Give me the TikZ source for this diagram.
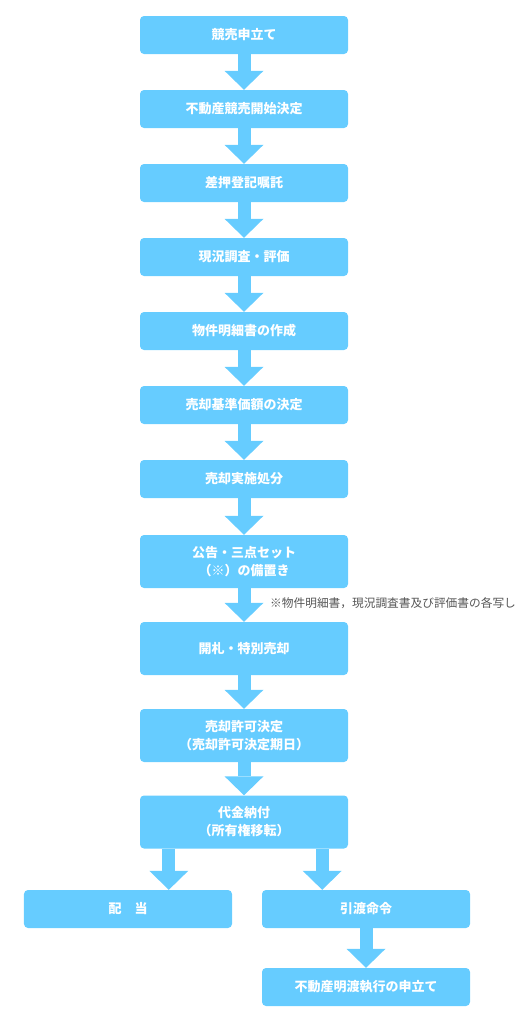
\documentclass[tikz,border=0pt]{standalone}
\usepackage{fontspec}
\setmainfont{Noto Sans CJK JP}
\usetikzlibrary{arrows.meta}
\definecolor{boxblue}{HTML}{66CCFF}
\definecolor{notegray}{HTML}{555555}

\begin{document}
\begin{tikzpicture}[x=1bp,y=-1bp,
  box/.style={fill=boxblue,rounded corners=4bp,minimum width=208bp,minimum height=38bp,
    inner sep=0pt,align=center,text=white,font=\fontsize{13bp}{18bp}\selectfont\bfseries},
  tallbox/.style={box,minimum height=53bp},
  flow/.style={boxblue,line width=13bp,-{Triangle[length=19bp,width=39bp,line width=0pt]}}]
  \useasboundingbox (0,0) rectangle (524,1024);
  \node[box] (apply) at (244,35) {競売申立て};
  \node[box] (start) at (244,109) {不動産競売開始決定};
  \node[box] (seize) at (244,183) {差押登記嘱託};
  \node[box] (survey) at (244,257) {現況調査・評価};
  \node[box] (spec) at (244,331) {物件明細書の作成};
  \node[box] (base) at (244,405) {売却基準価額の決定};
  \node[box] (order) at (244,479) {売却実施処分};
  \node[tallbox] (notice) at (244,561.5) {公告・三点セット\\（※）の備置き};
  \node[tallbox] (bid) at (244,648.5) {開札・特別売却};
  \node[tallbox] (permit) at (244,735.5) {売却許可決定\\（売却許可決定期日）};
  \node[tallbox] (pay) at (244,822) {代金納付\\（所有権移転）};
  \node[box] (dist) at (128,909) {配　当};
  \node[box] (handover) at (366,909) {引渡命令};
  \node[box] (evict) at (366,987) {不動産明渡執行の申立て};
  \node[notegray,anchor=west,inner sep=0pt,font=\fontsize{11.7bp}{15bp}\selectfont] (note) at (270,603)
    {※物件明細書，現況調査書及び評価書の各写し};
  \draw[flow] (apply) -- (start);
  \draw[flow] (start) -- (seize);
  \draw[flow] (seize) -- (survey);
  \draw[flow] (survey) -- (spec);
  \draw[flow] (spec) -- (base);
  \draw[flow] (base) -- (order);
  \draw[flow] (order) -- (notice);
  \draw[flow] (notice) -- (bid);
  \draw[flow] (bid) -- (permit);
  \draw[flow] (permit) -- (pay);
  \coordinate (pay-l) at ([xshift=29bp]pay.south west);
  \coordinate (pay-r) at ([xshift=-26bp]pay.south east);
  \draw[flow] (pay-l) -- (pay-l |- dist.north);
  \draw[flow] (pay-r) -- (pay-r |- handover.north);
  \draw[flow] (handover) -- (evict);
\end{tikzpicture}
\end{document}
